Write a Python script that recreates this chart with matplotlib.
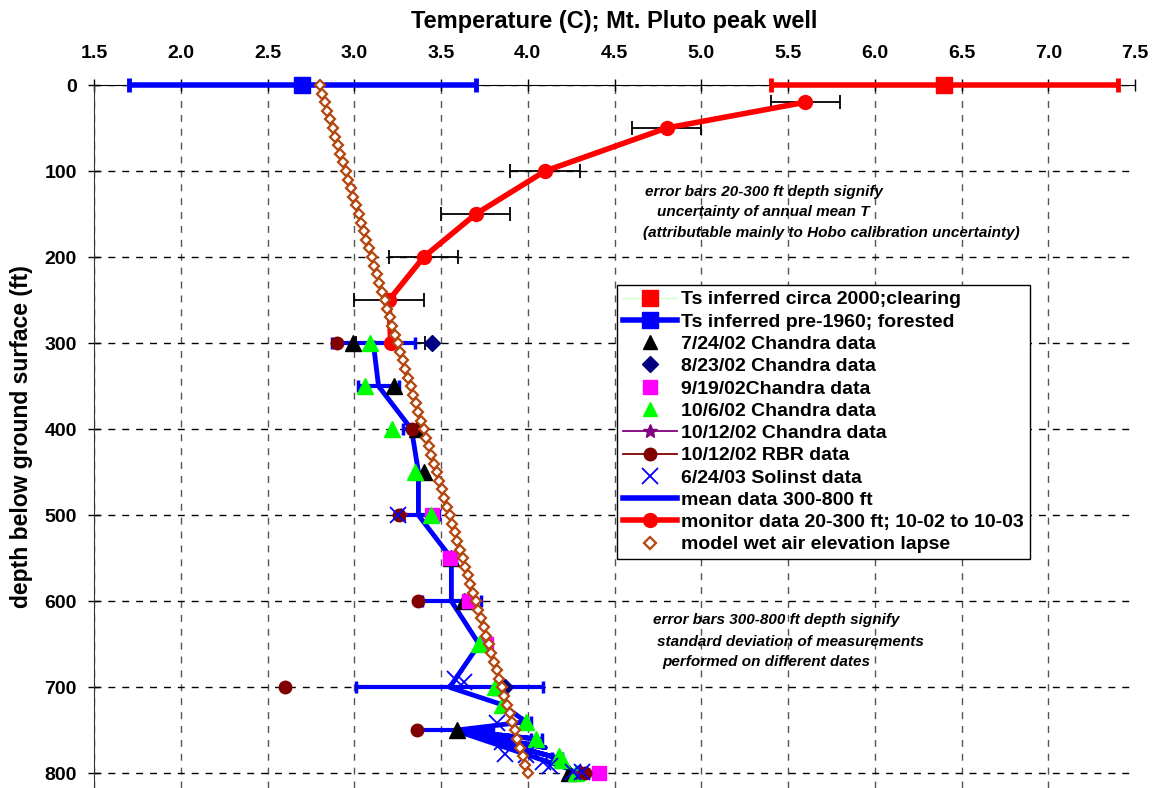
import numpy as np
import matplotlib.pyplot as plt
from matplotlib.lines import Line2D

plt.rcParams['font.family'] = ['Liberation Sans', 'DejaVu Sans']
plt.rcParams['font.weight'] = 'bold'
plt.rcParams['axes.labelweight'] = 'bold'

# surface temperature inferred at depth 0 (center +/- range)
ts_depth = [0]
ts_2000 = [6.4]
ts_1960 = [2.7]
ts_range = [1.0]

# monitor (hobo) annual means, 20-300 ft
mon_depth = [20, 50, 100, 150, 200, 250, 300]
mon_temp = [5.6, 4.8, 4.1, 3.7, 3.4, 3.2, 3.21]
mon_err = [0.2, 0.2, 0.2, 0.2, 0.2, 0.2, 0.2]

# logger runs
ch0724_depth = [300, 350, 400, 450, 550, 600, 700, 750, 800]
ch0724_temp = [2.99, 3.23, 3.36, 3.40, 3.56, 3.63, 3.84, 3.59, 4.24]
ch0823_depth = [300, 700, 800]
ch0823_temp = [3.45, 3.87, 4.30]
ch0919_depth = [500, 550, 600, 650, 800]
ch0919_temp = [3.45, 3.55, 3.66, 3.76, 4.41]
ch1006_depth = [300, 350, 400, 450, 500, 650, 700, 720, 740, 760, 780, 785, 800]
ch1006_temp = [3.09, 3.06, 3.22, 3.35, 3.44, 3.72, 3.81, 3.85, 3.99, 4.05, 4.18, 4.20, 4.28]
ch1012_depth = [500, 800]
ch1012_temp = [3.27, 4.30]
rbr_depth = [300, 400, 500, 600, 700, 750, 800]
rbr_temp = [2.90, 3.33, 3.26, 3.37, 2.60, 3.36, 4.33]
sol_depth = [500, 690, 694, 742, 762, 763, 777, 779, 787, 791, 798, 798]
sol_temp = [3.25, 3.58, 3.63, 3.82, 3.89, 3.85, 3.87, 3.99, 4.09, 4.13, 4.26, 4.31]

# mean of all runs 300-800 ft, with standard deviation
mean_depth = [300, 350, 400, 450, 500, 550, 600, 650, 700, 720, 740, 750,
              760, 750, 770, 750, 782, 750, 795, 800]
mean_temp = [3.11, 3.14, 3.33, 3.37, 3.37, 3.56, 3.56, 3.72, 3.55, 3.85, 3.99, 3.58,
             4.05, 3.58, 4.10, 3.58, 4.17, 3.58, 4.24, 4.28]
mean_std = [0.24, 0.12, 0.05, 0.0, 0.12, 0.025, 0.17, 0.0, 0.54, 0.0, 0.03, 0.22,
            0.03, 0.0, 0.0, 0.0, 0.03, 0.0, 0.0, 0.05]

# wet air elevation lapse model, every 10 ft
model_depth = list(range(0, 801, 10))
model_temp = [2.800, 2.815, 2.830, 2.845, 2.860, 2.875, 2.890, 2.905, 2.920, 2.935,
              2.950, 2.965, 2.980, 2.995, 3.010, 3.025, 3.040, 3.055, 3.070, 3.085,
              3.100, 3.115, 3.130, 3.145, 3.160, 3.175, 3.190, 3.205, 3.220, 3.235,
              3.250, 3.265, 3.280, 3.295, 3.310, 3.325, 3.340, 3.355, 3.370, 3.385,
              3.400, 3.415, 3.430, 3.445, 3.460, 3.475, 3.490, 3.505, 3.520, 3.535,
              3.550, 3.565, 3.580, 3.595, 3.610, 3.625, 3.640, 3.655, 3.670, 3.685,
              3.700, 3.715, 3.730, 3.745, 3.760, 3.775, 3.790, 3.805, 3.820, 3.835,
              3.850, 3.865, 3.880, 3.895, 3.910, 3.925, 3.940, 3.955, 3.970, 3.985,
              4.000]

xticks = [1.5, 2.0, 2.5, 3.0, 3.5, 4.0, 4.5, 5.0, 5.5, 6.0, 6.5, 7.0, 7.5]
yticks = [0, 100, 200, 300, 400, 500, 600, 700, 800]

fig = plt.figure(figsize=(11.59, 7.88), dpi=100)
ax = fig.add_axes([94 / 1159, 0.0, (1135 - 94) / 1159, 1 - 85 / 788])

# surface estimates, drawn over the top axis line
for t, c in ((ts_1960, '#0000FF'), (ts_2000, '#FF0000')):
    eb = ax.errorbar(t, ts_depth, xerr=ts_range, color=c, lw=4, capsize=5,
                     capthick=3.5, marker='s', ms=12, zorder=5)
    for art in eb.get_children():
        art.set_clip_on(False)

# mean line and its spread
ax.plot(mean_temp, mean_depth, color='#0000FF', lw=3.5, zorder=3)
keep = [i for i, s in enumerate(mean_std) if s > 0]
ax.errorbar([mean_temp[i] for i in keep], [mean_depth[i] for i in keep],
            xerr=[mean_std[i] for i in keep], fmt='none', ecolor='#0000FF',
            elinewidth=3, capsize=4, capthick=2.5, zorder=3)

# monitor data
ax.errorbar(mon_temp, mon_depth, xerr=mon_err, fmt='none', ecolor='black',
            elinewidth=1.3, capsize=5, capthick=1.3, zorder=2)
ax.plot(mon_temp, mon_depth, color='#FF0000', lw=4, marker='o', ms=10, zorder=4)

# individual runs
ax.plot(ch0724_temp, ch0724_depth, ls='none', marker='^', ms=11, color='black', zorder=6)
ax.plot(ch0823_temp, ch0823_depth, ls='none', marker='D', ms=8, color='#000080', zorder=6)
ax.plot(ch0919_temp, ch0919_depth, ls='none', marker='s', ms=10, color='#FF00FF', zorder=6)
ax.plot(ch1006_temp, ch1006_depth, ls='none', marker='^', ms=11, color='#00FF00', zorder=6)
ax.plot(ch1012_temp, ch1012_depth, ls='none', marker='*', ms=10, color='#800080', zorder=6)
ax.plot(rbr_temp, rbr_depth, ls='none', marker='o', ms=9, color='#800000', zorder=6)
ax.plot(sol_temp, sol_depth, ls='none', marker='x', ms=12, mew=1.3, color='#0000FF', zorder=7)

# lapse model
ax.plot(model_temp, model_depth, ls='none', marker='D', ms=5.5, mfc='white',
        mec='#B4460F', mew=1.6, zorder=8, clip_on=False)

ax.set_xlim(1.5, 7.5)
ax.set_ylim(817, 0)
ax.set_xticks(xticks)
ax.set_xticklabels(['%.1f' % v for v in xticks])
ax.set_yticks(yticks)
ax.xaxis.tick_top()
ax.xaxis.set_label_position('top')
ax.tick_params(axis='both', direction='inout', length=9, width=1, labelsize=14)
ax.tick_params(axis='x', pad=12)
ax.tick_params(axis='y', pad=8)
ax.spines['right'].set_visible(False)
ax.spines['bottom'].set_visible(False)
ax.spines['left'].set_color('#333333')
ax.grid(True, color='black', lw=1, ls=(0, (5, 5)))
for g in ax.xaxis.get_gridlines():
    g.set_color('#555555')
ax.xaxis.get_gridlines()[-1].set_visible(False)
ax.set_axisbelow(True)

ax.set_xlabel('Temperature (C); Mt. Pluto peak well', fontsize=17, fontweight='bold', labelpad=12)
ax.set_ylabel('depth below ground surface (ft)', fontsize=16.5, fontweight='bold', labelpad=8)

# notes
note = dict(fontsize=11, style='italic', fontweight='bold', va='center', ha='left')
ax.text(4.678, 124, 'error bars 20-300 ft depth signify', **note)
ax.text(4.747, 148, 'uncertainty of annual mean T', **note)
ax.text(4.666, 172, '(attributable mainly to Hobo calibration uncertainty)', **note)
ax.text(4.724, 622, 'error bars 300-800 ft depth signify', **note)
ax.text(4.747, 647, 'standard deviation of measurements', **note)
ax.text(4.776, 670, 'performed on different dates', **note)

handles = [
    Line2D([], [], color='#CCFFCC', lw=1, marker='s', ms=11, mfc='#FF0000', mec='#FF0000'),
    Line2D([], [], color='#0000FF', lw=4, marker='s', ms=11),
    Line2D([], [], ls='none', marker='^', ms=10, color='black'),
    Line2D([], [], ls='none', marker='D', ms=8, color='#000080'),
    Line2D([], [], ls='none', marker='s', ms=10, color='#FF00FF'),
    Line2D([], [], ls='none', marker='^', ms=10, color='#00FF00'),
    Line2D([], [], color='#800080', lw=1.3, marker='*', ms=10),
    Line2D([], [], color='#800000', lw=1.3, marker='o', ms=9),
    Line2D([], [], ls='none', marker='x', ms=11, mew=1.3, color='#0000FF'),
    Line2D([], [], color='#0000FF', lw=4),
    Line2D([], [], color='#FF0000', lw=4, marker='o', ms=10),
    Line2D([], [], ls='none', marker='D', ms=6, mfc='white', mec='#B4460F', mew=1.6),
]
labels = [
    'Ts inferred circa 2000;clearing',
    'Ts inferred pre-1960; forested',
    '7/24/02 Chandra data',
    '8/23/02 Chandra data',
    '9/19/02Chandra data',
    '10/6/02 Chandra data',
    '10/12/02 Chandra data',
    '10/12/02 RBR data',
    '6/24/03 Solinst data',
    'mean data 300-800 ft',
    'monitor data 20-300 ft; 10-02 to 10-03',
    'model wet air elevation lapse',
]
leg = fig.legend(handles, labels, loc='upper left', bbox_to_anchor=(617 / 1159, 1 - 285 / 788),
                 fontsize=14, frameon=True, fancybox=False, edgecolor='black',
                 framealpha=1, handlelength=2.8, handletextpad=0.2, labelspacing=0.24,
                 borderpad=0.3, borderaxespad=0)
leg.get_frame().set_linewidth(1)
leg.set_zorder(10)

fig.savefig('out.png', dpi=100)
